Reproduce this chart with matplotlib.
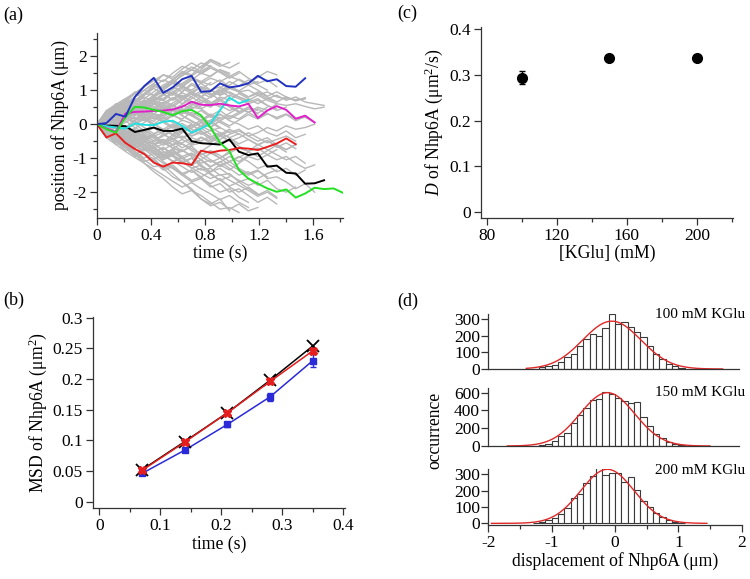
import numpy as np
import matplotlib
matplotlib.use("Agg")
import matplotlib.pyplot as plt
from matplotlib.ticker import MultipleLocator

plt.rcParams['font.family'] = ['Liberation Serif', 'DejaVu Serif']
plt.rcParams['mathtext.fontset'] = 'custom'
plt.rcParams['mathtext.rm'] = 'Liberation Serif'
plt.rcParams['mathtext.it'] = 'Liberation Serif:italic'
plt.rcParams['axes.unicode_minus'] = False
plt.rcParams['font.size'] = 12

# ---------------- (a) trajectories, one point every 0.07 s ----------------
frame_dt = 0.07
blue_tr = [0, 0.03, 0.3, 0.22, 0.8, 1.12, 1.36, 0.92, 1.08, 1.32, 1.42, 0.95, 0.97, 1.2,
           1.08, 1.12, 1.2, 1.42, 1.26, 1.32, 1.12, 1.1, 1.35]
magenta_tr = [0, -0.13, -0.23, 0.31, 0.36, 0.37, 0.39, 0.40, 0.43, 0.51, 0.66, 0.57, 0.56,
              0.6, 0.55, 0.52, 0.6, 0.18, 0.4, 0.53, 0.42, 0.16, 0.25, 0.05]
green_tr = [0, -0.15, -0.25, 0.2, 0.51, 0.49, 0.42, 0.36, 0.26, 0.38, 0.42, 0.26, -0.1,
            -0.55, -0.8, -1.35, -1.6, -1.75, -1.89, -1.99, -1.92, -2.16, -2.04, -1.87,
            -1.91, -1.89, -2.02]
cyan_tr = [0, -0.06, -0.1, -0.13, 0.02, -0.02, -0.03, 0.07, 0.1, -0.05, -0.25, -0.13,
           0.02, 0.41, 0.78, 0.61, 0.71]
black_tr = [0, -0.04, -0.05, -0.06, -0.23, -0.17, -0.1, -0.2, -0.2, -0.13, -0.5, -0.56,
            -0.58, -0.6, -0.45, -0.81, -0.91, -0.86, -1.25, -1.22, -1.43, -1.45, -1.75,
            -1.74, -1.65]
red_tr = [0, -0.39, -0.27, -0.55, -0.73, -0.88, -1.13, -1.25, -1.13, -1.15, -1.2, -0.78,
          -0.84, -0.78, -0.76, -0.7, -0.72, -0.76, -0.67, -0.57, -0.42, -0.59]

gray_tr = [
    [0, 0.25, 0.45, 0.7, 0.62, 0.9, 1.1, 1.05, 1.3, 1.5, 1.42, 1.6, 1.85, 1.7, 1.82],
    [0, 0.18, 0.35, 0.55, 0.8, 1.0, 1.2, 1.45, 1.38, 1.62, 1.8, 1.65, 1.9, 1.78],
    [0, -0.2, -0.45, -0.6, -0.85, -1.1, -1.0, -1.3, -1.55, -1.7, -1.95, -2.1, -2.3, -2.5, -2.45, -2.6],
    [0, -0.15, -0.35, -0.6, -0.8, -1.05, -1.25, -1.2, -1.45, -1.7, -1.9, -2.2, -2.35, -2.2, -2.55],
    [0, 0.3, 0.5, 0.45, 0.7, 0.9, 0.85, 1.05, 1.2, 1.1, 1.3, 1.25, 1.15, 1.3, 1.1, 0.95, 1.0,
     0.85, 0.95, 0.8, 0.75, 0.72, 0.75],
    [0, 0.2, 0.1, 0.35, 0.55, 0.5, 0.75, 0.7, 0.95, 0.8, 0.9, 1.1, 1.0, 0.85, 0.95, 0.8, 0.7,
     0.85, 0.7, 0.6, 0.55, 0.6, 0.52, 0.45, 0.5],
    [0, -0.1, -0.3, -0.25, -0.5, -0.7, -0.65, -0.9, -1.1, -1.0, -1.2, -1.35, -1.3, -1.5, -1.45,
     -1.7, -1.6, -1.8, -1.65, -1.9, -2.0, -1.85],
    [0, -0.25, -0.4, -0.55, -0.5, -0.75, -0.7, -0.95, -0.9, -1.1, -1.0, -0.85, -1.05, -1.2, -1.1,
     -1.3, -1.45, -1.35, -1.6, -1.55, -1.7, -1.9, -1.75, -2.0],
    [0, 0.1, -0.1, 0.05, 0.2, 0.1, 0.3, 0.25, 0.4, 0.3, 0.5, 0.45, 0.6, 0.55, 0.4, 0.5, 0.35,
     0.45, 0.3, 0.2, 0.3, 0.15, 0.2, 0.05],
    [0, -0.15, 0.0, -0.2, -0.35, -0.3, -0.5, -0.45, -0.6, -0.55, -0.4, -0.5, -0.35, -0.45, -0.3,
     -0.2, -0.35, -0.25, -0.1, -0.2, -0.05, -0.15, -0.1, 0.0],
    [0, 0.2, 0.4, 0.3, 0.5, 0.7, 0.6, 0.45, 0.55, 0.35, 0.25, 0.4, 0.2, 0.3, 0.1, 0.0, -0.15,
     -0.05, -0.25, -0.35, -0.2, -0.4, -0.3],
    [0, -0.2, -0.1, -0.3, -0.2, -0.4, -0.6, -0.5, -0.7, -0.8, -0.65, -0.9, -0.8, -1.0, -0.85,
     -0.7, -0.8, -0.6, -0.75, -0.9, -1.05, -0.95, -1.15],
    [0, 0.15, 0.35, 0.25, 0.45, 0.6, 0.8, 0.75, 0.95, 1.1, 1.0, 1.2, 1.35, 1.25, 1.4, 1.3, 1.15, 1.25],
    [0, -0.3, -0.5, -0.7, -0.6, -0.85, -1.05, -1.3, -1.2, -1.45, -1.65, -1.55, -1.8, -2.0, -1.9,
     -2.15, -2.3],
    [0, 0.2, 0.05, 0.25, 0.15, 0.35, 0.3, 0.5, 0.4],
    [0, -0.2, -0.05, -0.25, -0.15, -0.4, -0.3, -0.55, -0.45, -0.6],
    [0, 0.3, 0.55, 0.45, 0.7, 0.6, 0.8, 0.95, 0.85, 1.05, 0.9, 1.1],
    [0, -0.3, -0.55, -0.45, -0.7, -0.6, -0.85, -1.0, -0.9, -1.15, -1.0, -1.25, -1.4],
    [0, 0.1, 0.3, 0.2, 0.0, 0.15, -0.05, 0.1, 0.25, 0.15, 0.35, 0.2, 0.05, 0.2],
    [0, -0.1, -0.3, -0.15, 0.0, -0.2, -0.1, -0.3, -0.2, -0.4, -0.25, -0.05, -0.2, -0.1],
    [0, 0.25, 0.5, 0.7, 0.95, 0.85, 1.1, 1.3, 1.2, 1.45, 1.6, 1.5, 1.7, 1.55, 1.4, 1.55, 1.35,
     1.2, 1.3, 1.1],
    [0, -0.25, -0.45, -0.7, -0.95, -0.85, -1.1, -1.35, -1.25, -1.5, -1.7, -1.6, -1.85, -1.75,
     -2.0, -1.9, -2.1, -2.3, -2.15, -2.35],
    [0, 0.15, 0.0, 0.2, 0.4, 0.3, 0.15, 0.3, 0.45, 0.35, 0.55, 0.7, 0.6, 0.8, 0.7, 0.9, 0.75,
     0.6, 0.75, 0.65, 0.8, 0.7, 0.75],
    [0, -0.15, 0.05, -0.1, -0.3, -0.15, -0.35, -0.25, -0.05, -0.2, -0.35, -0.25, -0.45, -0.3,
     -0.5, -0.4, -0.25, -0.4, -0.55, -0.45, -0.35, -0.5],
    [0, 0.2, 0.4, 0.6, 0.5, 0.65, 0.85, 1.0, 0.9, 0.75, 0.9, 0.7, 0.55, 0.7, 0.5, 0.35, 0.5, 0.3],
    [0, -0.2, -0.4, -0.3, -0.5, -0.65, -0.55, -0.8, -0.95, -1.15, -1.0, -1.2, -1.4, -1.3, -1.5,
     -1.65, -1.8, -1.7],
    [0, 0.25, 0.1, 0.3, 0.5, 0.35, 0.6, 0.45, 0.3, 0.45, 0.25, 0.1, 0.25, 0.05, -0.1],
    [0, -0.25, -0.1, -0.35, -0.5, -0.35, -0.6, -0.75, -0.6, -0.45, -0.6, -0.4, -0.55, -0.35, -0.2],
    [0, 0.3, 0.2, 0.45, 0.35, 0.6, 0.8, 0.7, 0.55, 0.75, 0.6, 0.8, 1.0, 0.9, 1.1, 0.95, 0.8,
     0.9, 0.75, 0.85, 0.7, 0.8, 0.65, 0.6, 0.55],
    [0, -0.3, -0.2, -0.45, -0.35, -0.6, -0.8, -0.7, -0.9, -0.75, -0.95, -1.15, -1.05, -1.25,
     -1.1, -0.95, -1.1, -1.3, -1.2, -1.4, -1.3, -1.5, -1.35],
    [0, 0.2, 0.4, 0.65, 0.9, 1.1, 1.35, 1.25, 1.5, 1.7, 1.6, 1.8, 1.7],
    [0, -0.2, -0.45, -0.65, -0.9, -1.15, -1.4, -1.6, -1.85, -2.05, -1.95, -2.2, -2.4, -2.3,
     -2.5, -2.35, -2.55, -2.45],
    [0, 0.1, 0.25, 0.15, 0.35, 0.55, 0.45, 0.65, 0.5, 0.7, 0.9, 0.8, 1.0, 0.85, 1.05, 0.95,
     0.8, 0.95, 0.8, 0.65],
    [0, -0.1, -0.25, -0.4, -0.3, -0.5, -0.7, -0.85, -0.75, -0.95, -0.85, -1.05, -1.25, -1.1,
     -1.3, -1.5, -1.4, -1.6, -1.45, -1.35],
    [0, 0.15, 0.3, 0.2, 0.05, 0.2, 0.0, -0.15, 0.0, -0.2, -0.35, -0.2, -0.4, -0.55, -0.45,
     -0.65, -0.8, -0.7, -0.9, -1.05, -0.95, -1.15, -1.3, -1.2],
    [0, -0.15, -0.3, -0.15, 0.0, 0.15, 0.3, 0.2, 0.4, 0.55, 0.45, 0.6, 0.5, 0.7, 0.85, 0.75,
     0.6, 0.7, 0.55, 0.45],
    [0, 0.2, 0.4, 0.55, 0.75, 0.6, 0.8, 1.0, 1.2, 1.1, 1.3, 1.5, 1.4, 1.6, 1.45],
    [0, -0.2, -0.35, -0.55, -0.4, -0.6, -0.8, -1.0, -0.9, -1.1, -1.3, -1.2, -1.45, -1.65, -1.55],
    [0, 0.35, 0.2, 0.4, 0.25, 0.45, 0.3, 0.15, 0.3, 0.1],
    [0, -0.35, -0.2, -0.4, -0.25, -0.45, -0.3, -0.15, -0.3, -0.1],
    [0, 0.3, 0.6, 0.5, 0.8, 1.0, 0.85, 1.1, 1.25, 1.15, 1.35, 1.2, 1.0, 1.1, 0.9, 0.8, 0.65,
     0.75, 0.55, 0.4, 0.5],
    [0, -0.3, -0.6, -0.5, -0.8, -1.0, -0.85, -1.1, -1.3, -1.45, -1.35, -1.55, -1.4, -1.2, -1.35,
     -1.15, -0.95, -1.05, -0.9, -0.75],
    [0, 0.1, 0.3, 0.5, 0.4, 0.6, 0.5, 0.3, 0.45, 0.25, 0.1, -0.05, 0.1, -0.1, -0.25, -0.15,
     -0.35, -0.5, -0.4, -0.6, -0.75, -0.6],
    [0, -0.1, -0.3, -0.5, -0.4, -0.6, -0.5, -0.3, -0.45, -0.25, -0.1, 0.05, -0.1, 0.1, 0.25,
     0.15, 0.35, 0.5, 0.4, 0.6],
    [0, 0.2, 0.45, 0.4, 0.65, 0.9, 1.15, 1.05, 1.3, 1.55, 1.45, 1.7, 1.9, 1.75, 1.65, 1.8],
    [0, 0.25, 0.4, 0.6, 0.45, 0.65, 0.8, 0.7, 0.9, 0.75],
    [0, -0.22, -0.42, -0.58, -0.5, -0.7, -0.82, -0.68, -0.88, -0.8],
    [0, 0.15, 0.3, 0.1, -0.1, -0.25, -0.1, -0.3, -0.45, -0.35, -0.55],
    [0, -0.12, -0.32, -0.1, 0.12, 0.22, 0.08, 0.32, 0.42, 0.3, 0.52],
    [0, 0.35, 0.55, 0.75, 0.6, 0.85, 1.05, 0.9, 0.7, 0.85, 0.65, 0.5],
    [0, -0.32, -0.5, -0.78, -0.62, -0.88, -1.02, -0.92, -0.72, -0.8, -0.62, -0.55],
    [0, 0.05, 0.2, 0.4, 0.6, 0.8, 0.65, 0.5, 0.3, 0.45, 0.3, 0.1, 0.25],
    [0, -0.08, -0.22, -0.38, -0.62, -0.78, -0.6, -0.52, -0.32, -0.42, -0.28, -0.12, -0.3],
    [0, 0.4, 0.3, 0.15, 0.35, 0.2, 0.0, 0.2, 0.05, -0.15, 0.0],
    [0, -0.4, -0.28, -0.18, -0.32, -0.22, 0.02, -0.18, -0.08, 0.12, 0.02],
    [0, 0.2, 0.45, 0.7, 0.9, 0.75, 0.95, 1.15, 1.3, 1.15, 0.95, 1.1, 0.9, 0.7],
    [0, -0.2, -0.45, -0.7, -0.9, -0.75, -0.95, -1.15, -1.3, -1.5, -1.35, -1.6, -1.75, -1.6,
     -1.85, -2.0, -1.85, -2.05],
    [0, 0.1, -0.15, -0.35, -0.55, -0.45, -0.7, -0.9, -1.1, -0.95, -1.2, -1.05, -0.85, -1.0, -0.8],
    [0, -0.1, 0.15, 0.35, 0.55, 0.45, 0.7, 0.9, 1.1, 0.95, 1.2, 1.05, 0.85, 1.0, 0.8],
    [0, 0.3, 0.1, -0.1, 0.1, 0.3, 0.15, 0.35, 0.55, 0.4, 0.6, 0.45, 0.25, 0.4, 0.2, 0.35, 0.5, 0.4],
    [0, 0.28, 0.5, 0.38, 0.62, 0.48, 0.7, 0.88, 0.72, 0.95, 1.15, 1.02, 1.22],
    [0, -0.28, -0.5, -0.38, -0.6, -0.45, -0.72, -0.9, -0.78, -1.0, -1.18, -1.05, -1.28],
    [0, 0.12, 0.32, 0.52, 0.42, 0.25, 0.42, 0.62, 0.78, 0.6, 0.82, 0.98, 0.85, 1.05, 1.25, 1.12,
     1.3, 1.15, 1.0],
    [0, -0.18, -0.05, 0.15, 0.3, 0.5, 0.68, 0.55, 0.75, 0.92, 0.8, 0.62, 0.8, 0.98, 1.15, 1.32,
     1.2, 1.38, 1.55, 1.45],
    [0, -0.15, -0.35, -0.55, -0.42, -0.25, -0.42, -0.62, -0.5, -0.7, -0.55, -0.38, -0.5, -0.3,
     -0.15, -0.3],
    [0, 0.22, 0.08, -0.12, -0.3, -0.18, -0.38, -0.55, -0.7, -0.58, -0.78, -0.95, -1.12, -1.0,
     -1.2, -1.35, -1.5, -1.38, -1.55],
    [0, 0.32, 0.45, 0.62, 0.8, 1.0, 1.18, 1.05, 1.25, 1.42, 1.6, 1.48, 1.65, 1.52, 1.35, 1.5],
    [0, -0.05, 0.1, 0.28, 0.15, 0.35, 0.22, 0.05, -0.12, 0.02, -0.15, -0.3, -0.18, -0.35, -0.5],
    [0, 0.18, 0.3, 0.45, 0.32, 0.15, 0.28, 0.1, -0.08, -0.25, -0.12, 0.05, -0.1, -0.25, -0.4,
     -0.28, -0.45, -0.6, -0.48, -0.65, -0.82],
    [0, -0.3, -0.45, -0.25, -0.42, -0.6, -0.78, -0.95, -0.82, -1.02, -0.88, -1.05, -1.25, -1.12,
     -0.95, -1.1, -0.92],
    [0, 0.35, 0.2, 0.05, 0.25, 0.42, 0.6, 0.45, 0.62, 0.8, 0.95, 0.82, 0.65, 0.5],
    [0, -0.35, -0.22, -0.05, -0.22, -0.4, -0.58, -0.45, -0.62, -0.78, -0.92, -0.8, -0.62, -0.48],
    [0, 0.1, 0.28, 0.45, 0.62, 0.5, 0.68, 0.85, 1.02, 1.2, 1.38, 1.25, 1.42, 1.6, 1.5],
    [0, -0.08, -0.28, -0.45, -0.65, -0.52, -0.72, -0.9, -1.08, -1.25, -1.42, -1.3, -1.48, -1.65,
     -1.82, -1.7, -1.9, -2.08, -1.95, -2.15],
    [0, 0.15, -0.05, -0.25, -0.12, 0.05, 0.22, 0.08, 0.25, 0.42, 0.28, 0.12, 0.3, 0.15, 0.32,
     0.48, 0.35, 0.18, 0.32, 0.15, 0.28, 0.1, 0.22],
    [0, -0.12, 0.05, 0.22, 0.08, -0.1, -0.28, -0.15, -0.32, -0.18, -0.02, -0.2, -0.38, -0.25,
     -0.4, -0.58, -0.45, -0.62, -0.48, -0.68, -0.55, -0.72],
    [0, 0.25, 0.42, 0.3, 0.48, 0.65, 0.52, 0.38, 0.22, 0.4, 0.25, 0.08, -0.08, 0.1, -0.05, 0.12,
     0.28, 0.15, 0.3],
    [0, -0.25, -0.4, -0.28, -0.45, -0.32, -0.5, -0.35, -0.2, -0.05, -0.22, -0.05, 0.12, 0.28,
     0.15, 0.3, 0.45, 0.32, 0.5],
    [0, 0.3, 0.5, 0.68, 0.55, 0.72, 0.58, 0.75, 0.92, 1.1, 0.95, 0.78, 0.6, 0.75, 0.55, 0.38],
    [0, -0.3, -0.5, -0.68, -0.55, -0.72, -0.88, -1.05, -0.92, -1.1, -1.28, -1.45, -1.6, -1.48,
     -1.65, -1.8, -1.95, -2.12, -2.0, -2.18],
    [0, 0.05, 0.25, 0.12, 0.32, 0.2, 0.38, 0.55, 0.42, 0.25, 0.08, -0.08, 0.05, -0.12],
    [0, -0.05, -0.22, -0.1, -0.3, -0.48, -0.35, -0.52, -0.38, -0.2, -0.05, 0.12, 0.0, 0.18],
    [0, 0.2, 0.05, 0.22, 0.38, 0.55, 0.72, 0.6, 0.42, 0.58, 0.75, 0.92, 0.78, 0.95, 1.12, 0.98,
     1.15, 1.0, 0.82, 0.95, 0.8, 0.68, 0.78],
    [0, -0.2, -0.05, -0.22, -0.38, -0.52, -0.7, -0.58, -0.42, -0.58, -0.72, -0.9, -0.78, -0.92,
     -1.1, -0.98, -0.82, -0.95, -0.78, -0.62, -0.75, -0.6],
    [0, 0.4, 0.58, 0.75, 0.92, 1.1, 1.28, 1.45, 1.32, 1.5, 1.68, 1.55, 1.72],
    [0, -0.4, -0.6, -0.8, -0.98, -1.15, -1.32, -1.5, -1.68, -1.85, -1.72, -1.9, -2.05, -2.22,
     -2.1, -2.3, -2.45],
]

# ---------------- (b) MSD ----------------
lag_t = [0.07, 0.14, 0.21, 0.28, 0.35]
msd_black = [0.052, 0.098, 0.145, 0.198, 0.254]
msd_red = [0.051, 0.097, 0.145, 0.196, 0.246]
msd_red_err = [0.002, 0.003, 0.003, 0.004, 0.005]
msd_blue = [0.046, 0.084, 0.126, 0.171, 0.230]
msd_blue_err = [0.003, 0.003, 0.004, 0.007, 0.010]

# ---------------- (c) D vs salt ----------------
kglu = [100, 150, 200]
d_coef = [0.294, 0.336, 0.337]
d_err = [0.014, 0.004, 0.004]

# ---------------- (d) displacement histograms ----------------
bin_left = [-1.3, -1.2, -1.1, -1.0, -0.9, -0.8, -0.7, -0.6, -0.5, -0.4, -0.3, -0.2,
            -0.1, 0.0, 0.1, 0.2, 0.3, 0.4, 0.5, 0.6, 0.7, 0.8, 0.9, 1.0]
hist_100 = [3, 14, 18, 24, 45, 72, 92, 138, 182, 212, 200, 244, 332, 270, 280, 255, 225,
            190, 140, 90, 62, 30, 16, 6]
hist_150 = [5, 12, 28, 55, 115, 150, 260, 350, 430, 520, 530, 610, 585, 545, 505, 480, 495,
            330, 230, 140, 85, 45, 22, 10]
hist_200 = [4, 10, 20, 30, 55, 92, 153, 178, 245, 292, 340, 296, 310, 310, 250, 285, 205,
            135, 100, 65, 40, 20, 10, 4]
# gaussian fits: amplitude, centre, width, plotted range
fit_100 = (287, -0.05, 0.46, -1.4, 1.7)
fit_150 = (600, -0.12, 0.43, -1.7, 1.5)
fit_200 = (330, -0.12, 0.42, -1.95, 1.45)
salt_labels = ["100 mM KGlu", "150 mM KGlu", "200 mM KGlu"]

W, H = 750, 579
fig = plt.figure(figsize=(W / 100, H / 100), dpi=100)


def rect(x0, y0, x1, y1):
    return [x0 / W, 1 - y1 / H, (x1 - x0) / W, (y1 - y0) / H]


def style(ax):
    for s in ("top", "right"):
        ax.spines[s].set_visible(False)
    for s in ("left", "bottom"):
        ax.spines[s].set_linewidth(0.9)
        ax.spines[s].set_color("#333333")
    ax.tick_params(which="major", direction="out", length=5, width=0.9, colors="#333333",
                   labelcolor="black", labelsize=12.5, pad=2)
    ax.tick_params(which="minor", direction="out", length=3, width=0.9, colors="#333333")


# (a)
ax = fig.add_axes(rect(97, 33, 343, 218))
for tr in gray_tr:
    ax.plot(frame_dt * np.arange(len(tr)), tr, color="#b8b8b8", lw=1.0)
for tr, c in [(black_tr, "black"), (cyan_tr, "#22e0e0"), (magenta_tr, "#e020c8"),
              (red_tr, "#e82020"), (green_tr, "#22e022"), (blue_tr, "#2232c0")]:
    ax.plot(frame_dt * np.arange(len(tr)), tr, color=c, lw=1.4)
ax.set_xlim(0, 1.82)
ax.set_ylim(-2.76, 2.68)
ax.xaxis.set_minor_locator(MultipleLocator(0.2))
ax.yaxis.set_major_locator(MultipleLocator(1))
ax.yaxis.set_minor_locator(MultipleLocator(0.5))
ax.set_xticks([0, 0.4, 0.8, 1.2, 1.6], ["0", "0.4", "0.8", "1.2", "1.6"])
ax.set_xlabel("time (s)", fontsize=12.7, labelpad=1)
ax.set_ylabel("position of Nhp6A (μm)", fontsize=12.7, labelpad=3)
style(ax)

# (b)
ax = fig.add_axes(rect(92.7, 316.7, 345, 508.3))
ax.plot(lag_t, msd_black, color="black", lw=1.1, marker="x", ms=8, mew=1.3, zorder=3)
ax.errorbar(lag_t, msd_blue, yerr=msd_blue_err, color="#2a2ad8", lw=1.1, marker="s", ms=4,
            capsize=2.5, elinewidth=1, zorder=2)
ax.errorbar(lag_t, msd_red, yerr=msd_red_err, color="#e41e1e", lw=1.1, marker="X", ms=6,
            capsize=2.5, elinewidth=1, zorder=4)
ax.set_xlim(-0.0108, 0.4027)
ax.set_ylim(-0.0108, 0.3016)
ax.set_xticks([0, 0.1, 0.2, 0.3, 0.4], ["0", "0.1", "0.2", "0.3", "0.4"])
ax.xaxis.set_minor_locator(MultipleLocator(0.05))
ax.set_yticks([0, 0.05, 0.1, 0.15, 0.2, 0.25, 0.3],
              ["0", "0.05", "0.1", "0.15", "0.2", "0.25", "0.3"])
ax.set_xlabel("time (s)", fontsize=12.7, labelpad=1)
ax.set_ylabel("MSD of Nhp6A (μm$^2$)", fontsize=12.7, labelpad=3)
style(ax)

# (c)
ax = fig.add_axes(rect(481, 26.7, 733, 218))
ax.errorbar(kglu, d_coef, yerr=d_err, fmt="o", color="black", ms=7, capsize=2.5, elinewidth=1)
ax.set_xlim(76.6, 220.6)
ax.set_ylim(-0.0131, 0.4055)
ax.set_xticks([80, 120, 160, 200])
ax.xaxis.set_minor_locator(MultipleLocator(20))
ax.set_yticks([0, 0.1, 0.2, 0.3, 0.4], ["0", "0.1", "0.2", "0.3", "0.4"])
ax.set_xlabel("[KGlu] (mM)", fontsize=12.7, labelpad=1)
ax.set_ylabel(r"$\it{D}$ of Nhp6A (μm$^2$/s)", fontsize=12.7, labelpad=3)
style(ax)

# (d)
hist_rects = [rect(488.3, 314, 741.7, 369), rect(488.3, 387.7, 741.7, 446),
              rect(488.3, 469.3, 741.7, 525)]
hist_data = [hist_100, hist_150, hist_200]
fits = [fit_100, fit_150, fit_200]
ylims = [(0, 330), (0, 656), (-10, 330)]
yticks = [[0, 100, 200, 300], [0, 200, 400, 600], [0, 100, 200, 300]]
label_y = [314, 392.7, 470]
for i in range(3):
    ax = fig.add_axes(hist_rects[i])
    ax.bar(bin_left, hist_data[i], width=0.1, align="edge", facecolor="white",
           edgecolor="#3a3a3a", lw=0.8)
    amp, mu, sig, x0, x1 = fits[i]
    xs = np.linspace(x0, x1, 300)
    ax.plot(xs, amp * np.exp(-0.5 * ((xs - mu) / sig) ** 2), color="#e02828", lw=1.0)
    ax.set_xlim(-2, 2)
    ax.set_ylim(*ylims[i])
    ax.set_yticks(yticks[i])
    style(ax)
    ax.tick_params(axis="y", pad=1)
    if i < 2:
        ax.tick_params(axis="x", which="both", bottom=False, labelbottom=False)
        ax.spines["bottom"].set_bounds(-2, 1.95)
    else:
        ax.set_xticks([-2, -1, 0, 1, 2])
        ax.xaxis.set_minor_locator(MultipleLocator(0.5))
        ax.set_xlabel("displacement of Nhp6A (μm)", fontsize=12.7, labelpad=1)
    fig.text(0.993, 1 - label_y[i] / H, salt_labels[i], ha="right", va="center", fontsize=11)
fig.text(0.58, 0.257, "occurrence", rotation=90, ha="center", va="center", fontsize=12.7)

# panel letters
for lab, x, y in [("(a)", 3, 15), ("(b)", 3, 300), ("(c)", 397, 13), ("(d)", 397, 301)]:
    fig.text(x / W, 1 - y / H, lab, ha="left", va="center", fontsize=13)

fig.savefig("out.png", dpi=100)
